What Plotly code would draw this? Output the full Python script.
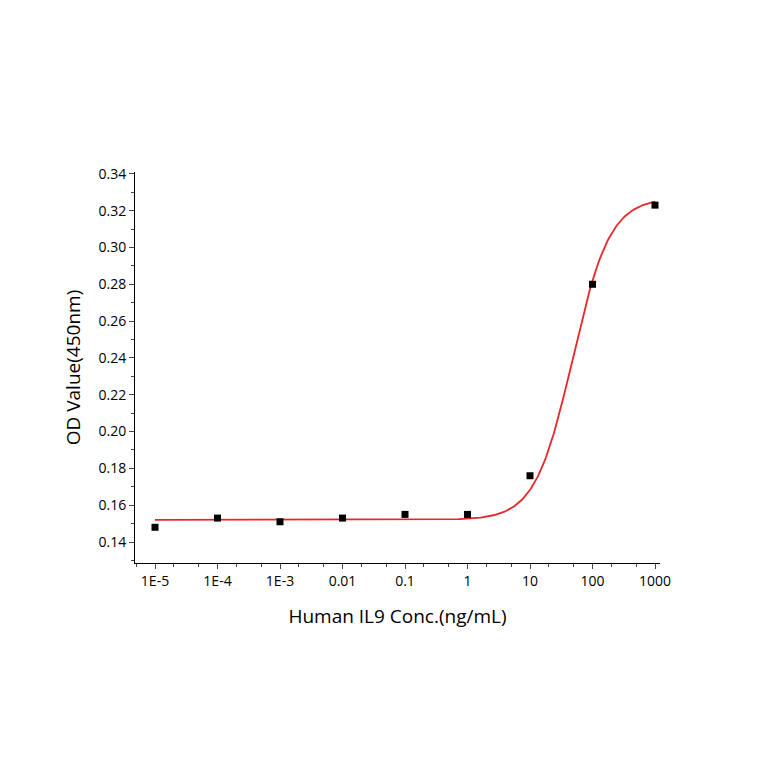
import numpy as np
import plotly.graph_objects as go

conc = [1e-5, 1e-4, 1e-3, 0.01, 0.1, 1, 10, 100, 1000]
od = [0.148, 0.153, 0.151, 0.153, 0.155, 0.155, 0.176, 0.280, 0.323]
x_ticks = [1e-5, 1e-4, 1e-3, 0.01, 0.1, 1, 10, 100, 1000]
x_labels = ["1E-5", "1E-4", "1E-3", "0.01", "0.1", "1", "10", "100", "1000"]
# 4PL fit parameters
fit_bottom, fit_top, fit_ec50, fit_hill = 0.152, 0.327, 48.0, 1.45

xf = np.logspace(-5, 3, 400)
yf = fit_bottom + (fit_top - fit_bottom) / (1 + (fit_ec50 / xf) ** fit_hill)

fig = go.Figure()
fig.add_trace(go.Scatter(x=xf, y=yf, mode="lines", line=dict(color="#e8262a", width=1.8)))
fig.add_trace(go.Scatter(x=conc, y=od, mode="markers",
                         marker=dict(symbol="square", size=7, color="black")))
axfont = dict(family="Open Sans", size=14, color="black")
fig.update_layout(
    width=764, height=764, showlegend=False,
    plot_bgcolor="white", paper_bgcolor="white",
    margin=dict(l=127, r=112, t=164, b=209),
    xaxis=dict(type="log", range=[-5.32, 3.08], tickvals=x_ticks, ticktext=x_labels,
               showline=True, linecolor="black", linewidth=1, ticks="outside", ticklen=5,
               showgrid=False, zeroline=False, tickfont=axfont,
               minor=dict(ticks="outside", ticklen=3, showgrid=False),
               title=dict(text="Human IL9 Conc.(ng/mL)", font=dict(family="Open Sans", size=19, color="black"), standoff=20)),
    yaxis=dict(range=[0.1286, 0.341], dtick=0.02, tickformat=".2f",
               showline=True, linecolor="black", linewidth=1, ticks="outside", ticklen=5,
               showgrid=False, zeroline=False, tickfont=axfont,
               minor=dict(ticks="outside", ticklen=3, dtick=0.01, showgrid=False),
               title=dict(text="OD Value(450nm)", font=dict(family="Open Sans", size=19, color="black"), standoff=12)),
)
fig.write_html("out.html")
